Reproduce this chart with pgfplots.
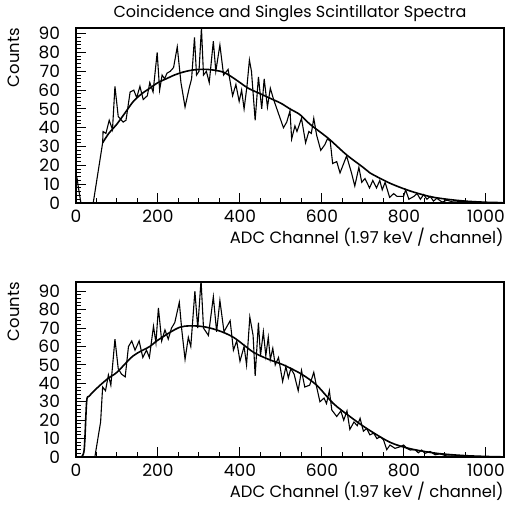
\documentclass[border=0pt]{standalone}
\usepackage{fontspec}
\setmainfont{Poppins}
\usepackage{pgfplots}
\pgfplotsset{compat=1.18}

\pgfplotsset{
  myax/.style={
    width=214pt, height=87.5pt, scale only axis,
    xmin=0, xmax=1044, ymin=0,
    xtick={0,200,...,1000}, minor x tick num=3,
    ytick={0,10,...,90}, minor y tick num=4,
    xtick pos=bottom, ytick pos=left,
    tick align=inside,
    major tick length=5pt, minor tick length=2.5pt,
    tick style={black, line width=0.5pt},
    axis line style={line width=0.6pt},
    tick label style={font=\fontsize{8.5}{9}\selectfont},
    yticklabel style={xshift=-4.5pt},
    /pgf/number format/assume math mode=true,
    /pgf/number format/1000 sep={},
    xlabel={ADC Channel (1.97 keV / channel)},
    ylabel={Counts},
    xlabel style={at={(axis description cs:1,-0.229)}, anchor=base east, inner sep=0pt, font=\fontsize{8.2}{9}\selectfont},
    ylabel style={at={(axis description cs:-0.13,1)}, anchor=south east, inner sep=0pt, font=\fontsize{8.2}{9}\selectfont},
  },
  mynoisy/.style={black, line width=0.55pt, sharp plot, no marks},
  mysmooth/.style={black, line width=0.8pt, smooth, no marks},
}

\begin{document}
\begin{tikzpicture}
\useasboundingbox (-38pt,-151pt) rectangle (215.5pt,101.5pt);

\begin{axis}[myax, ymax=93,
  every axis title shift=0pt,
  title={Coincidence and Singles Scintillator Spectra},
  title style={at={(axis description cs:0.5,1)}, anchor=base, yshift=5.5pt, inner sep=0pt, font=\fontsize{8}{9}\selectfont}]
\addplot[mynoisy] coordinates {
(2,14) (6,8) (12,0) (42,0) (65,32) (66,38) (73,37) (81,44) (89,39) (95,62)
(103,46) (115,43) (122,44) (132,59) (141,60) (148,56) (156,62) (164,55) (174,57)
(180,64) (188,59) (198,80) (204,60) (210,68) (216,66) (222,69) (230,70) (238,72)
(247,83) (256,64) (266,51) (276,61) (282,66) (289,88) (294,68) (300,70) (306,93)
(311,68) (318,70) (325,64) (335,86) (341,70) (351,84) (360,68) (371,71) (378,62)
(382,57) (390,63) (398,54) (404,60) (410,50) (417,62) (423,76) (428,70) (437,44)
(445,67) (453,50) (459,66) (467,51) (474,61) (482,55) (490,50) (498,45) (506,40)
(514,43) (522,49) (526,34) (534,41) (539,38) (550,45) (560,32) (568,38) (574,37)
(580,45) (587,36) (597,28) (607,31) (613,34) (620,33) (626,21) (636,22) (644,16)
(660,25) (672,16) (680,9) (690,19) (697,11) (705,13) (716,8) (724,12) (733,8)
(741,12) (747,7) (754,11) (765,3) (775,5) (783,3.5) (799,3.5) (804,7) (812,2)
(824,3.5) (832,5) (840,2) (848,4.5) (856,2) (864,3.5) (872,1) (880,2.5) (893,0.5)
(905,1.5) (920,0.5) (940,0.8) (960,0.3) (980,0.5) (1000,0) (1044,0)
};
\addplot[mysmooth] coordinates {
(65,32) (80,37) (100,42) (120,48) (140,54) (160,58) (180,61) (200,64) (220,66)
(240,68) (260,69.5) (280,70.5) (300,71) (320,71) (340,70.5) (360,69.5) (380,67)
(400,64) (420,61) (450,58) (480,55) (500,53) (522,50) (546,47) (570,42) (600,37)
(620,33.5) (660,25.6) (700,19) (717,16) (766,10.5) (815,6.4) (864,3.4) (905,2)
(950,1) (1000,0.4) (1040,0.2)
};
\end{axis}

\begin{axis}[myax, ymax=95, at={(0,-127pt)}]
\addplot[mynoisy] coordinates {
(46,0) (60,19) (65,38) (72,36) (79,44.5) (85,39) (95,64) (103,48) (111,45)
(120,43.5) (128,60) (136,63) (144,58) (154,63) (163,54) (172,58) (179,54) (189,71)
(195,62) (201,81) (209,63) (217,69) (225,64) (233,70) (241,73) (252,84) (258,69)
(266,53) (274,65) (280,60) (290,90) (297,70) (305,96) (311,70) (323,66) (335,87)
(343,68) (351,85) (361,68) (376,74) (384,58) (392,63) (400,52) (410,60) (416,50)
(424,76) (432,66) (437,44) (445,73) (450,55) (457,68) (463,55) (469,65) (474,53)
(480,59) (486,50) (494,54) (504,41) (512,49) (518,43) (524,48) (532,45) (542,36)
(550,47) (558,38) (570,39) (580,46) (587,38) (595,30) (605,32) (611,29) (618,36)
(624,25.5) (636,22) (646,25) (653,20) (661,25) (668,15) (678,19) (686,17) (693,21)
(701,14) (709,15.5) (717,12) (726,13) (734,10) (742,11) (750,9.4) (758,4) (766,6.5)
(778,4.7) (791,5.6) (799,6.5) (807,4.7) (815,3.8) (827,4) (835,2.3) (843,3.8)
(851,2) (864,3) (876,1.2) (888,1.7) (904,0.6) (930,0.5) (950,0.2) (1000,0) (1044,0)
};
\addplot[mysmooth] coordinates {
(12,0) (20,4) (26,30) (32,33) (54,38) (80,43) (100,46) (140,55) (180,60) (200,63.5)
(254,70.5) (302,71) (343,69) (384,65) (432,57) (470,53) (506,50) (550,45) (587,39)
(628,29) (668,22) (709,15.5) (766,8) (815,4.5) (880,2) (945,0.8) (1000,0.3) (1040,0.1)
};
\end{axis}
\end{tikzpicture}
\end{document}
